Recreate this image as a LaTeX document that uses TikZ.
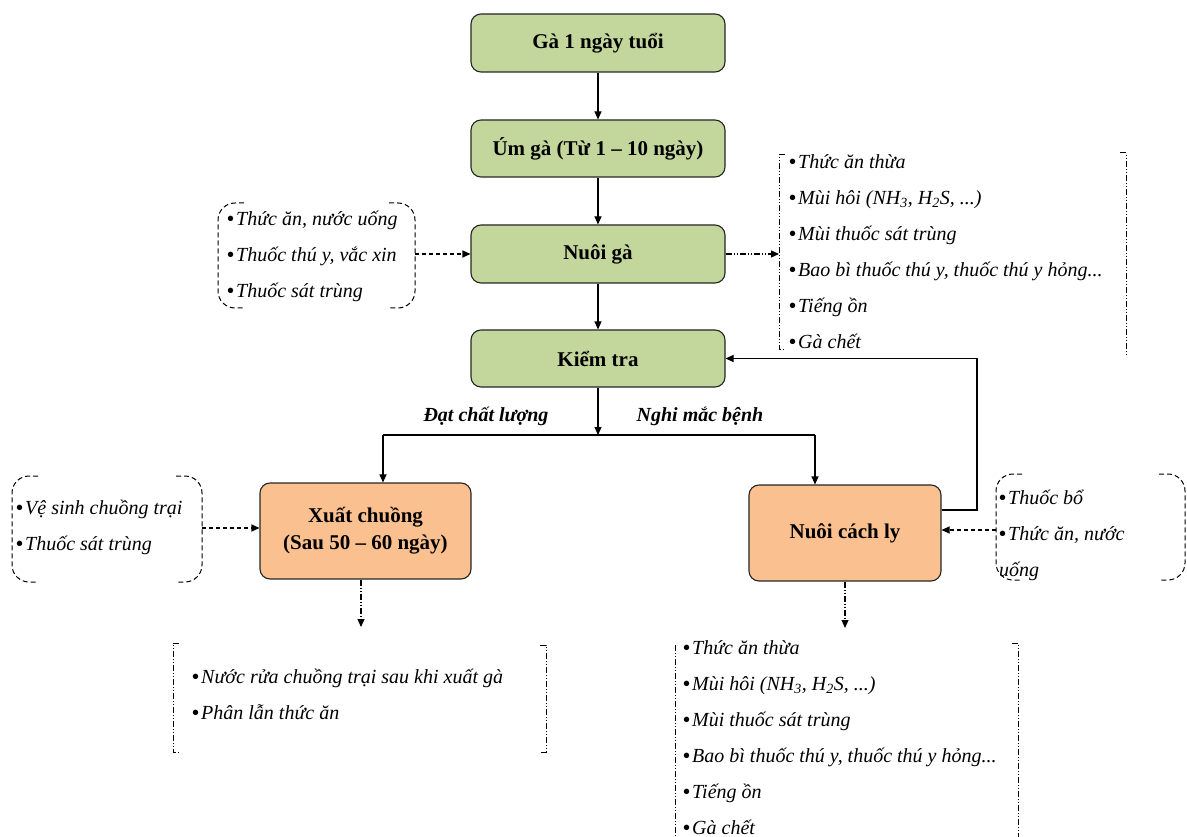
\documentclass[tikz,border=0pt]{standalone}
\usepackage{fontspec}
\setmainfont{Liberation Serif}
\usetikzlibrary{arrows.meta}
\definecolor{boxgreen}{HTML}{C3D69B}
\definecolor{boxorange}{HTML}{FAC090}
\newcommand{\lbul}{{\upshape\bfseries\textbullet}\hspace{2pt}}
\begin{document}
\begin{tikzpicture}[x=1pt,y=-1pt,
 proc/.style={draw=black!85, line width=1.1pt, rounded corners=10pt, fill=boxgreen, font=\bfseries\fontsize{21}{27}\selectfont, align=center, inner sep=0pt},
 alt/.style={proc, fill=boxorange},
 lst/.style={font=\itshape\fontsize{20}{36}\selectfont, align=left, inner sep=0pt, anchor=west},
 lbl/.style={font=\bfseries\itshape\fontsize{20}{24}\selectfont, inner sep=0pt},
 flow/.style={line width=1.1pt, -{Triangle[length=8pt,width=7pt]}},
 dsh/.style={flow, dash pattern=on 4pt off 3pt},
 ddot/.style={flow, dash pattern=on 6pt off 2pt on 1pt off 2pt on 1pt off 2pt},
 brk/.style={line width=1pt, dash pattern=on 5pt off 3pt, rounded corners=17pt},
 brkb/.style={line width=1pt, dash pattern=on 6pt off 2pt on 1pt off 2pt on 1pt off 2pt},
]
\clip (0,0) rectangle (1187,837);
\fill[white] (0,0) rectangle (1187,837);

% main boxes
\node[proc, minimum width=254pt, minimum height=58pt] (g1) at (598,43) {Gà 1 ngày tuổi};
\node[proc, minimum width=254pt, minimum height=57pt] (g2) at (598,148.5) {Úm gà (Từ 1 – 10 ngày)};
\node[proc, minimum width=254pt, minimum height=58pt] (g3) at (598,254) {Nuôi gà};
\node[proc, minimum width=254pt, minimum height=57pt] (g4) at (598,358.5) {Kiểm tra};
\node[alt, minimum width=211pt, minimum height=96pt] (xc) at (365.5,531) {Xuất chuồng\\(Sau 50 – 60 ngày)};
\node[alt, minimum width=192pt, minimum height=96pt] (ncl) at (845,533) {Nuôi cách ly};

% main flow
\draw[flow] (g1) -- (g2);
\draw[flow] (g2) -- (g3);
\draw[flow] (g3) -- (g4);
\coordinate (j) at (598,435);
\coordinate (jl) at (383,435);
\coordinate (jr) at (815,435);
\draw[flow] (g4) -- (j);
\draw[line width=1.1pt] (jl) -- (jr);
\draw[flow] (jl) -- (xc.north -| jl);
\draw[flow] (jr) -- (ncl.north -| jr);
\node[lbl] (l1) at (486,416) {Đạt chất lượng};
\node[lbl] (l2) at (700,416) {Nghi mắc bệnh};

% feedback
\coordinate (fb) at (977,510);
\draw[flow] (ncl.east |- fb) -- (fb) |- (g4.east);

% input box 1
\draw[brk] (244,203) -- (218,203) -- (218,308) -- (244,308);
\draw[brk] (389,203) -- (415,203) -- (415,308) -- (389,308);
\node[lst] (in1) at (227,256) {\lbul Thức ăn, nước uống\\\lbul Thuốc thú y, vắc xin\\\lbul Thuốc sát trùng};
\coordinate (in1e) at (415,254);
\draw[dsh] (in1e) -- (g3.west |- in1e);

% output box 1
\draw[brkb] (785,155) -- (779,155) -- (779,349) -- (785,349);
\draw[brkb] (1120,153) -- (1126,153) -- (1126,357);
\node[lst] (out1) at (789,251.5) {\lbul Thức ăn thừa\\\lbul Mùi hôi (NH\textsubscript{3}, H\textsubscript{2}S, ...)\\\lbul Mùi thuốc sát trùng\\\lbul Bao bì thuốc thú y, thuốc thú y hỏng...\\\lbul Tiếng ồn\\\lbul Gà chết};
\coordinate (out1w) at (779,254);
\draw[ddot] (g3.east |- out1w) -- (out1w);

% input box 2
\draw[brk] (38,476) -- (12,476) -- (12,582) -- (38,582);
\draw[brk] (176,476) -- (202,476) -- (202,582) -- (176,582);
\node[lst] (in2) at (16,527) {\lbul Vệ sinh chuồng trại\\\lbul Thuốc sát trùng};
\coordinate (in2e) at (202,528);
\draw[dsh] (in2e) -- (xc.west |- in2e);

% input box 3
\draw[brk] (1022,474) -- (996,474) -- (996,580) -- (1022,580);
\draw[brk] (1159,474) -- (1185,474) -- (1185,580) -- (1159,580);
\node[lst] (in3) at (999,535) {\lbul Thuốc bổ\\\lbul Thức ăn, nước\\uống};
\coordinate (in3w) at (996,530);
\draw[dsh] (in3w) -- (ncl.east |- in3w);

% output box 2
\coordinate (out2n) at (361,627);
\draw[ddot] (xc.south -| out2n) -- (out2n);
\draw[brkb] (179,643) -- (173,643) -- (173,752) -- (179,752);
\draw[brkb] (540,645) -- (546,645) -- (546,752) -- (540,752);
\node[lst] (out2) at (192,694) {\lbul Nước rửa chuồng trại sau khi xuất gà\\\lbul Phân lẫn thức ăn};

% output box 3
\coordinate (out3n) at (845,628);
\draw[ddot] (ncl.south -| out3n) -- (out3n);
\draw[brkb] (675,645) -- (675,845);
\draw[brkb] (1012,643) -- (1018,643) -- (1018,845);
\node[lst] (out3) at (683,738) {\lbul Thức ăn thừa\\\lbul Mùi hôi (NH\textsubscript{3}, H\textsubscript{2}S, ...)\\\lbul Mùi thuốc sát trùng\\\lbul Bao bì thuốc thú y, thuốc thú y hỏng...\\\lbul Tiếng ồn\\\lbul Gà chết};
\end{tikzpicture}
\end{document}
